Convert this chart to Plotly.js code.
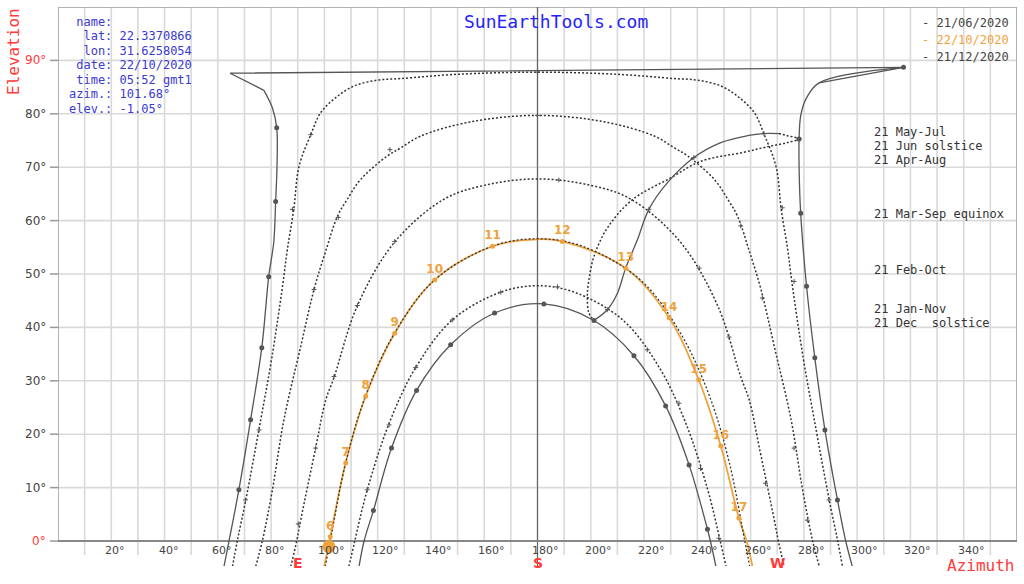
<!DOCTYPE html>
<html><head><meta charset="utf-8">
<script src="https://cdn.plot.ly/plotly-3.0.1.min.js"></script>
<style>html,body{margin:0;padding:0;background:#fff;}#chart{width:1024px;height:584px;}</style>
</head><body><div id="chart"></div>
<script>
// ---------- data (azimuth °, elevation °) ----------
const junAz = [62.3, 64.2, 67.9, 72.3, 76.5, 79.1, 81.0, 81.7, 82.2, 82.1, 80.5, 77.3, 64.6, 317.4, 285.7, 280.7, 278.8, 278.2, 278.2, 278.8, 281.0, 284.1, 287.9, 292.6, 295.7, 298.2];
const junEl = [-4.8, 0, 9.6, 22.7, 36.2, 49.5, 56.0, 63.6, 70.0, 77.4, 81.1, 84.4, 87.6, 88.7, 85.8, 82.7, 79.6, 75.3, 70.0, 61.4, 47.7, 34.3, 20.8, 7.7, 0, -4.8];
const junDotAz = [67.9, 72.3, 76.5, 79.1, 81.7, 82.1, 317.4, 278.2, 278.8, 281.0, 284.1, 287.9, 292.6];
const junDotEl = [9.6, 22.7, 36.2, 49.5, 63.6, 77.4, 88.7, 75.3, 61.4, 47.7, 34.3, 20.8, 7.7];

const decAz = [113.0, 114.9, 118.4, 125.2, 134.6, 147.4, 163.9, 182.4, 201.2, 216.2, 228.1, 236.9, 243.8, 244.9, 247.0];
const decEl = [-4.8, 0, 5.7, 17.4, 28.2, 36.75, 42.7, 44.4, 41.3, 34.7, 25.3, 14.25, 2.2, 0, -4.8];

const octAz = [99.9, 102.2, 108.0, 115.5, 126.4, 141.4, 163.1, 180.0, 189.3, 213.1, 229.4, 240.5, 248.8, 255.6, 258.5, 260.7];
const octEl = [-4.8, 0.8, 14.6, 27.1, 38.9, 48.9, 55.2, 56.5, 56.1, 51.1, 41.8, 30.2, 17.8, 4.3, 0, -4.8];
const octHours = ['6','7','8','9','10','11','12','13','14','15','16','17'];
const octHourAz = [102.2, 108.0, 115.5, 126.4, 141.4, 163.1, 189.3, 213.1, 229.4, 240.5, 248.8, 255.6];
const octHourEl = [0.8, 14.6, 27.1, 38.9, 48.9, 55.2, 56.1, 51.1, 41.8, 30.2, 17.8, 4.3];
const sunAz = [101.68];
const sunEl = [-1.05];

const mayAz = [65.5, 67.3, 70.5, 76.1, 80.3, 84.4, 86.1, 88.5, 90.5, 94.9, 98.6, 104.2, 111.1, 119.9, 128.6, 150.0, 180.0, 210.0, 231.4, 240.1, 248.9, 255.8, 261.4, 265.1, 269.5, 271.5, 273.9, 275.6, 279.7, 283.9, 289.5, 292.7, 294.5];
const mayEl = [-4.8, 0, 7.7, 22.7, 34.4, 48.1, 54.6, 62.1, 70.2, 76.1, 80.2, 83.0, 85.2, 86.3, 86.6, 87.4, 87.8, 87.4, 86.6, 86.3, 85.2, 83.0, 80.2, 76.1, 70.2, 62.1, 54.6, 48.1, 34.4, 22.7, 7.7, 0, -4.8];
const mayMarkAz = [70.4, 75.5, 88.0, 94.9, 180.0, 271.9, 276.3, 289.4];
const mayMarkEl = [7.7, 20.8, 62.1, 76.1, 87.8, 62.4, 48.6, 7.7];

const aprAz = [74.2, 76.7, 80.5, 84.8, 91.1, 96.1, 100.5, 104.9, 108.6, 113.6, 123.6, 128.6, 136.0, 155.0, 180.0, 205.0, 224.0, 231.4, 236.4, 246.4, 251.4, 255.1, 259.5, 263.9, 268.9, 275.2, 279.5, 283.3, 285.8];
const aprEl = [-4.8, 0, 9.6, 22.7, 36.4, 47.1, 54.3, 60.8, 64.0, 67.7, 72.1, 73.6, 75.8, 78.5, 79.7, 78.5, 75.8, 73.6, 72.1, 67.7, 64.0, 60.8, 54.3, 47.1, 36.4, 22.7, 9.6, 0, -4.8];
const aprMarkAz = [96.1, 105.2, 124.6, 180.0, 256.3, 264.4, 276.3, 281.3];
const aprMarkEl = [47.1, 60.6, 73.3, 79.7, 59.0, 45.5, 17.4, 3.9];

const marAz = [87.4, 89.6, 91.1, 96.7, 100.5, 103.6, 112.4, 126.4, 144.9, 160.0, 180.0, 200.0, 215.1, 233.6, 247.6, 256.4, 259.5, 263.3, 268.9, 270.4, 272.6];
const marEl = [-4.8, 0, 3.9, 17.4, 26.4, 30.6, 44.1, 56.0, 64.0, 66.6, 67.8, 66.6, 64.0, 56.0, 44.1, 30.6, 26.4, 17.4, 3.9, 0, -4.8];
const marMarkAz = [90.2, 96.7, 103.6, 112.4, 126.4, 188.0, 240.7, 251.9, 265.6];
const marMarkEl = [3.2, 17.4, 30.8, 44.1, 56.1, 67.6, 51.1, 38.2, 10.8];

const febAz = [100.3, 102.2, 107.9, 115.4, 126.3, 141.4, 163.1, 180.0, 196.9, 218.6, 233.7, 244.6, 252.1, 257.8, 259.7];
const febEl = [-4.8, 0, 14.5, 27.1, 38.9, 48.9, 55.2, 56.6, 55.2, 48.9, 38.9, 27.1, 14.5, 0, -4.8];

const janAz = [109.2, 111.4, 116.1, 124.6, 134.3, 148.0, 166.2, 180.0, 193.8, 212.0, 225.7, 235.4, 243.9, 248.6, 250.8];
const janEl = [-4.8, 0, 9.6, 22.4, 32.5, 41.4, 46.6, 47.8, 46.6, 41.4, 32.5, 22.4, 9.6, 0, -4.8];
const janMarkAz = [116.1, 124.3, 134.3, 148.0, 166.2, 187.5, 221.2, 233.1, 241.2, 248.1];
const janMarkEl = [9.6, 21.75, 32.5, 41.4, 46.6, 47.6, 35.8, 25.8, 13.6, 0.5];

const anaSolidAz = [201.2, 206.2, 210.0, 213.1, 217.5, 221.8, 228.8, 238.7, 248.8, 258.8, 265.0, 270.6];
const anaSolidEl = [41.3, 43.3, 46.4, 51.1, 56.4, 62.1, 67.1, 71.8, 74.6, 75.9, 76.3, 76.3];
const anaDotAz = [270.6, 273.8, 278.2, 273.8, 266.9, 257.5, 241.3, 230.0, 215.6, 206.2, 201.2, 199.3, 198.7, 199.3, 201.2];
const anaDotEl = [76.3, 75.9, 75.3, 74.6, 73.9, 72.8, 71.1, 68.0, 63.9, 58.6, 53.3, 48.9, 45.8, 42.7, 41.3];
const anaMarkAz = [206.2, 221.8, 238.7, 265.0, 278.2];
const anaMarkEl = [43.3, 62.1, 71.8, 76.3, 75.3];

const xTickVals = [20, 40, 60, 80, 100, 120, 140, 160, 180, 200, 220, 240, 260, 280, 300, 320, 340];
const yTickVals = [0, 10, 20, 30, 40, 50, 60, 70, 80, 90];
const compassLabels = ['E', 'S', 'W'];
const compassAz = [90, 180, 270];

const rightLabels = ['21 May-Jul', '21 Jun solstice', '21 Apr-Aug', '21 Mar-Sep equinox', '21 Feb-Oct', '21 Jan-Nov', '21 Dec  solstice'];
const rightLabelEl = [76.5, 74.0, 71.3, 61.3, 50.8, 43.5, 40.9];
const rightLabelAz = 305.6;

const infoLines = [' name:', '  lat: 22.3370866', '  lon: 31.6258054', ' date: 22/10/2020', ' time: 05:52 gmt1', 'azim.: 101.68°', 'elev.: -1.05°'];
const legendLabels = ['- 21/06/2020', '- 22/10/2020', '- 21/12/2020'];

// ---------- style ----------
const MONO = 'DejaVu Sans Mono, monospace';
const SANS = 'DejaVu Sans, sans-serif';
const RED = '#ff3a3a', BLUE = '#3a3ad2', DARK = '#444444', ORANGE = '#f0a23c';
const LINE = '#555555', DOTC = '#333333', DASH = '2px,2px', GRID = '#d9d9d9';
const YB = -4.68, YT = 100;
const L = 58, R = 7, T = 7, B = 18, W = 1024, H = 584;
const PW = W - L - R, PH = H - T - B;
const px2paperX = p => (p - L) / PW;
const px2paperY = p => (H - B - p) / PH;
const el2paperY = e => (e - YB) / (YT - YB);
const nb = s => s.replace(/ /g, '\u00a0');

const traces = [];
function path(az, el, color, width, dash, shape) {
  traces.push({x: az, y: el, type: 'scatter', mode: 'lines', hoverinfo: 'skip', showlegend: false,
    line: {color: color, width: width, dash: dash || 'solid', shape: shape || 'spline', smoothing: 1}});
}
function dots(az, el, color, size) {
  traces.push({x: az, y: el, type: 'scatter', mode: 'markers', hoverinfo: 'skip', showlegend: false,
    marker: {color: color, size: size}});
}
function ticks(az, el) {
  traces.push({x: az, y: el, type: 'scatter', mode: 'markers', hoverinfo: 'skip', showlegend: false,
    marker: {symbol: 'cross-thin-open', size: 3.5, color: '#555', line: {color: '#555', width: 1}}});
}

path(mayAz, mayEl, DOTC, 1.5, DASH);
path(aprAz, aprEl, DOTC, 1.5, DASH);
path(marAz, marEl, DOTC, 1.5, DASH);
path(janAz, janEl, DOTC, 1.5, DASH);
path(anaDotAz, anaDotEl, DOTC, 1.5, DASH);
path(anaSolidAz, anaSolidEl, LINE, 1.3);
path(decAz, decEl, LINE, 1.3);
const TOPL = 12; // last point before the jump across north
path(junAz.slice(0, TOPL), junEl.slice(0, TOPL), LINE, 1.3);
path(junAz.slice(TOPL - 1, TOPL + 3), junEl.slice(TOPL - 1, TOPL + 3), LINE, 1.3, 'solid', 'linear');
path(junAz.slice(TOPL + 1), junEl.slice(TOPL + 1), LINE, 1.3);
path(octAz, octEl, ORANGE, 1.8);
path(febAz, febEl, DOTC, 1.3, DASH);
ticks(mayMarkAz, mayMarkEl);
ticks(aprMarkAz, aprMarkEl);
ticks(marMarkAz, marMarkEl);
ticks(janMarkAz, janMarkEl);
ticks(anaMarkAz, anaMarkEl);
dots(junDotAz, junDotEl, LINE, 5);
dots(decAz.slice(2, decAz.length - 2), decEl.slice(2, decEl.length - 2), LINE, 5);
traces.push({x: octHourAz, y: octHourEl, text: octHours, type: 'scatter', mode: 'markers+text',
  textposition: 'top center', cliponaxis: false, hoverinfo: 'skip', showlegend: false,
  marker: {color: ORANGE, size: 5},
  textfont: {family: SANS, size: 12, color: ORANGE, weight: 'bold'}});
dots(sunAz, sunEl, ORANGE, 13);

// ---------- shapes ----------
const shapes = [];
for (let a = 10; a < 360; a += 10) {
  shapes.push({type: 'line', xref: 'x', yref: 'y', x0: a, x1: a, y0: (a % 20 === 10) ? -2.6 : 0, y1: YT,
    line: {color: GRID, width: 1.6}, layer: 'below'});
}
for (let e = 10; e < 100; e += 10) {
  shapes.push({type: 'line', xref: 'x', yref: 'y', x0: 0, x1: 360, y0: e, y1: e, line: {color: GRID, width: 1.6}, layer: 'below'});
}
// white boxes behind info block and legend
shapes.push({type: 'rect', xref: 'paper', yref: 'paper', x0: 0, x1: px2paperX(200), y0: px2paperY(116), y1: 1,
  fillcolor: '#ffffff', line: {width: 0}, layer: 'below'});
shapes.push({type: 'rect', xref: 'paper', yref: 'paper', x0: px2paperX(915), x1: 1, y0: px2paperY(68), y1: 1,
  fillcolor: '#ffffff', line: {width: 0}, layer: 'below'});
// frame
shapes.push({type: 'line', xref: 'x', yref: 'y', x0: 0, x1: 0, y0: 0, y1: YT, line: {color: '#999', width: 1.5}, layer: 'below'});
shapes.push({type: 'line', xref: 'x', yref: 'y', x0: 360, x1: 360, y0: 0, y1: YT, line: {color: '#999', width: 1.5}, layer: 'below'});
shapes.push({type: 'line', xref: 'x', yref: 'y', x0: 0, x1: 360, y0: YT, y1: YT, line: {color: '#999', width: 1.5}, layer: 'below'});
shapes.push({type: 'line', xref: 'x', yref: 'y', x0: 180, x1: 180, y0: YB, y1: YT, line: {color: '#666', width: 1.2}, layer: 'below'});
shapes.push({type: 'line', xref: 'x', yref: 'y', x0: 0, x1: 360, y0: 0, y1: 0, line: {color: '#888', width: 2}, layer: 'below'});
yTickVals.forEach(e => {
  shapes.push({type: 'line', xref: 'paper', yref: 'paper', x0: -8 / PW, x1: 0, y0: el2paperY(e), y1: el2paperY(e),
    line: {color: '#999', width: 1.5}});
});

// ---------- annotations ----------
const ann = [];
yTickVals.forEach(e => ann.push({xref: 'paper', x: 0, xanchor: 'right', xshift: -10, yref: 'y', y: e, yanchor: 'middle',
  text: e + '°', showarrow: false, font: {family: SANS, size: 12, color: (e === 0 || e === 90) ? RED : DARK}}));
xTickVals.forEach(a => ann.push({xref: 'x', x: a, xanchor: 'left', xshift: -8, yref: 'y', y: 0, yanchor: 'top', yshift: -1,
  text: a + '°', showarrow: false, font: {family: SANS, size: 11, color: DARK}}));
compassLabels.forEach((c, i) => ann.push({xref: 'x', x: compassAz[i], xanchor: 'center', yref: 'y', y: 0, yanchor: 'middle', yshift: -22,
  text: '<b>' + c + '</b>', showarrow: false, font: {family: SANS, size: 14, color: RED}}));
ann.push({xref: 'x', x: 360, xanchor: 'right', xshift: -1, yref: 'y', y: 0, yanchor: 'middle', yshift: -24,
  text: 'Azimuth', showarrow: false, font: {family: MONO, size: 16, color: RED}});
ann.push({xref: 'paper', x: px2paperX(14), xanchor: 'center', yref: 'paper', y: px2paperY(52), yanchor: 'middle', textangle: -90,
  text: 'Elevation', showarrow: false, font: {family: MONO, size: 16, color: RED}});
ann.push({xref: 'paper', x: px2paperX(556), xanchor: 'center', yref: 'paper', y: px2paperY(22), yanchor: 'middle',
  text: 'SunEarthTools.com', showarrow: false, font: {family: MONO, size: 18, color: '#2424ff'}});
infoLines.forEach((s, i) => ann.push({xref: 'paper', x: px2paperX(67), xanchor: 'left', yref: 'paper', y: px2paperY(21.5 + i * 14.5), yanchor: 'middle',
  text: nb(s), showarrow: false, font: {family: MONO, size: 12, color: BLUE}}));
legendLabels.forEach((s, i) => ann.push({xref: 'paper', x: px2paperX(920), xanchor: 'left', yref: 'paper', y: px2paperY(22.7 + i * 17.3), yanchor: 'middle',
  text: nb(s), showarrow: false, font: {family: MONO, size: 12, color: i === 1 ? ORANGE : DARK}}));
rightLabels.forEach((s, i) => ann.push({xref: 'x', x: rightLabelAz, xanchor: 'left', yref: 'y', y: rightLabelEl[i], yanchor: 'middle',
  text: nb(s), showarrow: false, font: {family: MONO, size: 12, color: '#333'}}));

const layout = {
  width: W, height: H, margin: {l: L, r: R, t: T, b: B, pad: 0},
  paper_bgcolor: '#ffffff', plot_bgcolor: '#ffffff', showlegend: false,
  xaxis: {range: [0, 360], showgrid: false, zeroline: false, showticklabels: false, ticks: '', showline: false, fixedrange: true},
  yaxis: {range: [YB, YT], showgrid: false, zeroline: false, showticklabels: false, ticks: '', showline: false, fixedrange: true},
  shapes: shapes, annotations: ann
};
Plotly.newPlot('chart', traces, layout, {staticPlot: true, displayModeBar: false});
</script></body></html>
